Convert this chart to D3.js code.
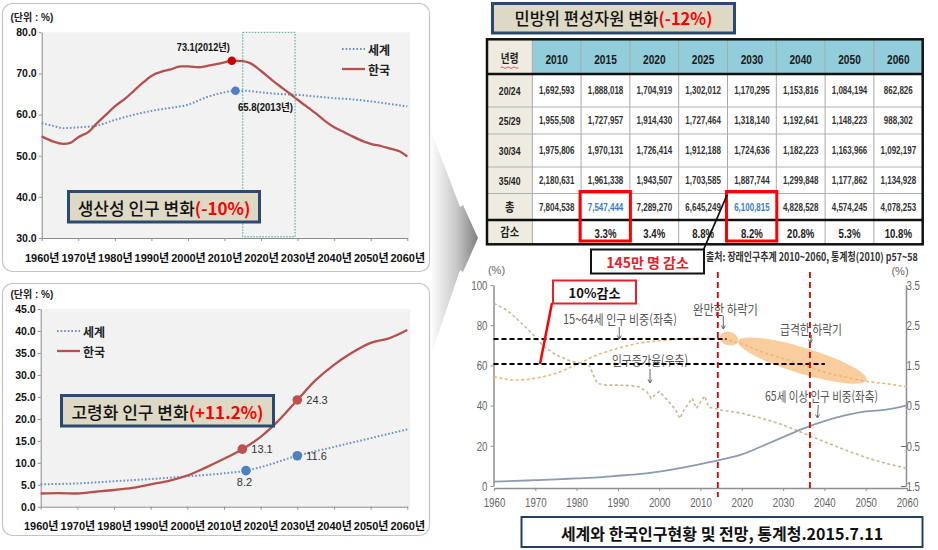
<!DOCTYPE html>
<html><head><meta charset="utf-8">
<script src="https://cdn.jsdelivr.net/npm/d3@7"></script>
<style>
html,body{margin:0;padding:0;background:#fff;}
svg{display:block;}
</style></head><body>
<svg id="chart" width="938" height="550"></svg>
<script>
// ================= DATA =================
const decades = [1960,1970,1980,1990,2000,2010,2020,2030,2040,2050,2060];

// Panel 1 : 생산성 인구 (15~64세 비중, %)
const p1KoreaYears  = [1960,1963,1966,1968,1970,1973,1975,1978,1980,1983,1985,1988,1990,1993,1995,1998,2000,2003,2005,2008,2010,2012,2015,2017,2020,2023,2025,2028,2030,2033,2035,2038,2040,2043,2045,2048,2050,2053,2055,2058,2060];
const p1KoreaValues = [54.7,53.5,52.9,53.2,54.5,55.9,57.8,60.3,62.0,64.0,65.6,68.0,69.4,70.5,70.9,71.7,71.7,71.5,71.8,72.3,72.7,73.1,73.0,72.5,70.6,68.4,67.0,65.0,63.6,61.6,60.3,58.1,56.9,55.6,54.7,53.5,52.9,52.3,51.8,51.0,49.8];
const p1WorldYears  = [1960,1963,1966,1970,1975,1980,1985,1990,1995,2000,2005,2010,2013,2015,2020,2025,2030,2035,2040,2045,2050,2055,2060];
const p1WorldValues = [57.9,57.3,56.7,56.9,57.3,58.7,59.9,60.9,61.6,62.4,64.2,65.4,65.8,65.8,65.4,65.0,64.8,64.4,64.0,63.7,63.2,62.6,62.0];
const p1Ticks = [30,40,50,60,70,80];
const p1KoreaMark = [2012, 73.1];
const p1WorldMark = [2013, 65.8];
const p1FocusRange = [2015, 2029.3];

// Panel 2 : 고령화 인구 (65세 이상 비중, %)
const p2KoreaYears  = [1960,1965,1970,1975,1980,1985,1990,1995,2000,2005,2010,2015,2020,2025,2030,2035,2040,2045,2050,2055,2060];
const p2KoreaValues = [3.0,3.1,3.0,3.4,3.8,4.3,5.1,5.9,7.1,8.9,10.9,13.1,15.9,19.7,24.3,28.8,32.3,35.1,37.3,38.3,40.2];
const p2WorldYears  = [1960,1970,1980,1990,2000,2010,2016,2020,2030,2040,2050,2060];
const p2WorldValues = [5.1,5.3,5.8,6.3,6.9,7.6,8.2,9.0,11.6,13.6,15.6,17.6];
const p2Ticks = [0,5,10,15,20,25,30,35,40,45];
const p2KoreaMarks = [[2015,13.1],[2030,24.3]];
const p2WorldMarks = [[2016,8.2],[2030,11.6]];

// Table : 민방위 편성자원
const tableYears = ['2010','2015','2020','2025','2030','2040','2050','2060'];
const ageGroups  = ['20/24','25/29','30/34','35/40'];
const age2024 = [1692593,1888018,1704919,1302012,1170295,1153816,1084194,862826];
const age2529 = [1955508,1727957,1914430,1727464,1318140,1192641,1148223,988302];
const age3034 = [1975806,1970131,1726414,1912188,1724636,1182223,1163966,1092197];
const age3540 = [2180631,1961338,1943507,1703585,1887744,1299848,1177862,1134928];
const totals  = [7804538,7547444,7289270,6645249,6100815,4828528,4574245,4078253];
const decreases = ['', '3.3%','3.4%','8.8%','8.2%','20.8%','5.3%','10.8%'];
const highlightYears = ['2015','2030'];

// Right chart : 인구구조 (통계청)
const rYears    = [1960,1965,1970,1975,1980,1985,1990,1995,2000,2005,2010,2015,2020,2025,2030,2035,2040,2045,2050,2055,2060];
const r1564     = [54.4,52.7,53.6,56.1,60.5,65.2,68.5,71.0,72.3,73.1,73.5,73.1,70.6,66.7,63.4,60.1,56.7,54.2,52.1,50.9,49.3];
const r65       = [2.2,2.5,2.9,3.3,3.8,4.3,5.1,5.9,7.2,8.9,10.9,13.1,15.7,19.9,24.3,28.7,32.3,35.1,37.1,38.0,40.1];
const growthYears  = [1960,1963,1965,1968,1970,1972,1975,1978,1980,1982,1983,1985,1987,1990,1993,1995,1997,1998,2000,2002,2004,2005,2006,2008,2009,2011,2012,2015,2020,2025,2030,2035,2040,2045,2050,2055,2060];
const growthValues = [3.04,2.88,2.71,2.42,2.21,1.97,1.76,1.63,1.57,1.55,1.51,1.05,1.01,1.01,1.0,0.97,0.85,0.68,0.85,0.64,0.39,0.18,0.39,0.68,0.43,0.74,0.46,0.39,0.31,0.18,0.02,-0.19,-0.40,-0.60,-0.79,-0.94,-1.06];
const rLeftTicks  = [0,20,40,60,80,100];
const rRightTicks = [-1.5,-0.5,0.5,1.5,2.5,3.5];
const refLevels   = [73.1, 60.7];         // 15~64세 비중 기준선
const refEndYears = [2016.3, 2040.1];
const phaseYears  = [2014.2, 2036.5];      // 하락기 구분선
const gentlePhase = [[2014.7,74.6],[2019.1,72.1]];
const steepPhase  = [[2019.1,72.1],[2050.2,52.7]];

// ================= DRAWING =================
const FONT  = '"Liberation Sans","Noto Sans CJK KR",sans-serif';
const KFONT = '"Noto Sans CJK KR","Liberation Sans",sans-serif';
const svg = d3.select("#chart");
const defs = svg.append("defs");
const grad = defs.append("linearGradient").attr("id","arrowGrad").attr("x1",0).attr("x2",1).attr("y1",0).attr("y2",0);
grad.append("stop").attr("offset",0).attr("stop-color","#ffffff");
grad.append("stop").attr("offset",0.55).attr("stop-color","#c8c8c8");
grad.append("stop").attr("offset",1).attr("stop-color","#7f7f7f");

// middle arrow
svg.append("polygon")
  .attr("points","430,128 460,207 463,205 478,238 463,272 460,270 432,352")
  .attr("fill","url(#arrowGrad)");

function styleAxis(g, color){
  g.select(".domain").attr("stroke",color).attr("stroke-width",1);
  g.selectAll(".tick line").attr("stroke",color);
  g.attr("font-family",FONT);
}
function callout(g, x, y, w, h, black, red, size){
  g.append("rect").attr("x",x).attr("y",y).attr("width",w).attr("height",h)
    .attr("fill","#ddd9c4").attr("stroke","#2c4a6e").attr("stroke-width",3);
  const t = g.append("text").attr("x",x+w/2).attr("y",y+h/2).attr("text-anchor","middle")
    .attr("dominant-baseline","central").attr("font-family",KFONT).attr("font-size",size);
  t.append("tspan").attr("fill","#111").attr("font-weight",500).text(black);
  t.append("tspan").attr("fill","#ff0000").attr("font-weight","bold").text(red);
}
function lineChartPanel(cfg){
  const g = svg.append("g");
  g.append("rect").attr("x",cfg.frame[0]).attr("y",cfg.frame[1]).attr("width",cfg.frame[2]).attr("height",cfg.frame[3])
    .attr("rx",10).attr("fill","#fff").attr("stroke","#c4c4c4").attr("stroke-width",1.2);
  g.append("rect").attr("x",cfg.left).attr("y",cfg.top).attr("width",cfg.bgRight-cfg.left).attr("height",cfg.bottom-cfg.top).attr("fill","#f2f2f2");
  g.append("text").attr("x",cfg.frame[0]+8).attr("y",cfg.top-11).attr("font-family",FONT).attr("font-size",10).attr("font-weight","bold").attr("fill","#222").text("(단위 : %)");
  const x = d3.scaleLinear().domain([1960,2060]).range([cfg.left,cfg.right]);
  const y = d3.scaleLinear().domain(cfg.domain).range([cfg.bottom,cfg.top]);
  const gx = g.append("g").attr("transform",`translate(0,${cfg.bottom})`)
    .call(d3.axisBottom(x).tickValues(decades).tickFormat(d=>d+"년").tickSize(3).tickSizeOuter(0).tickPadding(13));
  styleAxis(gx,"#8c8c8c");
  gx.selectAll(".tick text").attr("font-size",11).attr("font-weight","bold").attr("fill","#111");
  const gy = g.append("g").attr("transform",`translate(${cfg.left},0)`)
    .call(d3.axisLeft(y).tickValues(cfg.ticks).tickFormat(d3.format(".1f")).tickSize(3).tickSizeOuter(0).tickPadding(2));
  styleAxis(gy,"#8c8c8c");
  gy.selectAll(".tick text").attr("font-size",10.5).attr("font-weight","bold").attr("fill","#111");
  const line = d3.line().x(d=>x(d[0])).y(d=>y(d[1])).curve(d3.curveMonotoneX);
  g.append("path").datum(d3.zip(cfg.worldYears,cfg.worldValues)).attr("d",line)
    .attr("fill","none").attr("stroke","#6b8dc2").attr("stroke-width",2).attr("stroke-dasharray","1.6,2");
  g.append("path").datum(d3.zip(cfg.koreaYears,cfg.koreaValues)).attr("d",line)
    .attr("fill","none").attr("stroke","#b5504c").attr("stroke-width",2.3);
  // legend
  const lg = cfg.legend;
  g.append("line").attr("x1",lg[0]).attr("x2",lg[0]+23).attr("y1",lg[1]).attr("y2",lg[1]).attr("stroke","#6b8dc2").attr("stroke-width",2).attr("stroke-dasharray","1.6,2");
  g.append("line").attr("x1",lg[0]).attr("x2",lg[0]+23).attr("y1",lg[1]+20).attr("y2",lg[1]+20).attr("stroke","#b5504c").attr("stroke-width",2.3);
  g.append("text").attr("x",lg[0]+26).attr("y",lg[1]).attr("dominant-baseline","central").attr("font-family",KFONT).attr("font-size",12).attr("font-weight","bold").attr("fill","#222").text("세계");
  g.append("text").attr("x",lg[0]+26).attr("y",lg[1]+20).attr("dominant-baseline","central").attr("font-family",KFONT).attr("font-size",12).attr("font-weight","bold").attr("fill","#222").text("한국");
  return {g,x,y};
}

// ---- Panel 1
const P1 = lineChartPanel({frame:[2.5,3.5,427,268], left:41.7, right:407.3, bgRight:410, top:32.3, bottom:238,
  domain:[30,80], ticks:p1Ticks, koreaYears:p1KoreaYears, koreaValues:p1KoreaValues,
  worldYears:p1WorldYears, worldValues:p1WorldValues, legend:[342,49]});
P1.g.append("rect").attr("x",P1.x(p1FocusRange[0])).attr("y",P1.y(80)).attr("width",P1.x(p1FocusRange[1])-P1.x(p1FocusRange[0]))
  .attr("height",P1.y(30.3)-P1.y(80)).attr("fill","none").attr("stroke","#45a096").attr("stroke-width",1).attr("stroke-dasharray","1.5,1.5");
P1.g.append("circle").attr("cx",P1.x(p1KoreaMark[0])).attr("cy",P1.y(p1KoreaMark[1])).attr("r",4.3).attr("fill","#cc0000");
P1.g.append("circle").attr("cx",P1.x(p1WorldMark[0])).attr("cy",P1.y(p1WorldMark[1])).attr("r",4.3).attr("fill","#4f7fc0");
P1.g.append("text").attr("x",P1.x(p1KoreaMark[0])-2).attr("y",P1.y(p1KoreaMark[1])-10).attr("text-anchor","end")
  .attr("font-family",FONT).attr("font-size",10.5).attr("font-weight","bold").attr("fill","#111")
  .attr("textLength",53).attr("lengthAdjust","spacingAndGlyphs").text(`${p1KoreaMark[1]}(${p1KoreaMark[0]}년)`);
P1.g.append("text").attr("x",P1.x(p1WorldMark[0])+2.5).attr("y",P1.y(p1WorldMark[1])+20.5)
  .attr("font-family",FONT).attr("font-size",10.5).attr("font-weight","bold").attr("fill","#111")
  .attr("textLength",55).attr("lengthAdjust","spacingAndGlyphs").text(`${p1WorldMark[1]}(${p1WorldMark[0]}년)`);
callout(P1.g, 68.5, 191.5, 191, 30.5, "생산성 인구 변화", "(-10%)", 17);

// ---- Panel 2
const P2 = lineChartPanel({frame:[2.5,283.5,427,252], left:40.7, right:407.3, bgRight:410, top:309, bottom:506.7,
  domain:[0,45], ticks:p2Ticks, koreaYears:p2KoreaYears, koreaValues:p2KoreaValues,
  worldYears:p2WorldYears, worldValues:p2WorldValues, legend:[57,331]});
p2KoreaMarks.forEach(m=>{
  P2.g.append("circle").attr("cx",P2.x(m[0])).attr("cy",P2.y(m[1])).attr("r",4.8).attr("fill","#c0504d");
  P2.g.append("text").attr("x",P2.x(m[0])+9).attr("y",P2.y(m[1])).attr("dominant-baseline","central")
    .attr("font-family",FONT).attr("font-size",11).attr("fill","#333").text(m[1].toFixed(1));
});
p2WorldMarks.forEach((m,i)=>{
  P2.g.append("circle").attr("cx",P2.x(m[0])).attr("cy",P2.y(m[1])).attr("r",4.8).attr("fill","#4f81bd");
  if(i===0){
    P2.g.append("text").attr("x",P2.x(m[0])-1.5).attr("y",P2.y(m[1])+11.5).attr("text-anchor","middle").attr("dominant-baseline","central")
      .attr("font-family",FONT).attr("font-size",11).attr("fill","#333").text(m[1].toFixed(1));
  } else {
    P2.g.append("text").attr("x",P2.x(m[0])+9).attr("y",P2.y(m[1])).attr("dominant-baseline","central")
      .attr("font-family",FONT).attr("font-size",11).attr("fill","#333").text(m[1].toFixed(1));
  }
});
callout(P2.g, 61.5, 395.5, 212, 30.5, "고령화 인구 변화", "(+11.2%)", 17);

// ---- Title of table
callout(svg, 492.5, 3.5, 242, 29.5, "민방위 편성자원 변화", "(-12%)", 16.5);

// ---- Table
const T = {left:487, firstRight:532.3, right:922.7, rows:[39.3,74,107,134,167,193.5,220,244.3]};
const colX = d3.scaleBand().domain(tableYears).range([T.firstRight,T.right]);
const tg = svg.append("g");
const rowLabels = ageGroups.concat(['총','감소']);
const rowData = [age2024,age2529,age3034,age3540,totals];
const fmt = d3.format(",");
tg.append("rect").attr("x",T.left).attr("y",T.rows[0]).attr("width",T.right-T.left).attr("height",T.rows[7]-T.rows[0]).attr("fill","#fff");
tg.append("rect").attr("x",T.firstRight).attr("y",T.rows[0]).attr("width",T.right-T.firstRight).attr("height",T.rows[1]-T.rows[0]).attr("fill","#92cddc");
tg.append("rect").attr("x",T.left).attr("y",T.rows[0]).attr("width",T.firstRight-T.left).attr("height",T.rows[7]-T.rows[0]).attr("fill","#eeece1");
tableYears.forEach(yr=>{
  tg.append("line").attr("x1",colX(yr)).attr("x2",colX(yr)).attr("y1",T.rows[0]).attr("y2",T.rows[7]).attr("stroke","#a9a9a9").attr("stroke-width",1);
});
T.rows.slice(1,7).forEach((ry,i)=>{
  const heavy = (i===0 || i===5);
  tg.append("line").attr("x1",T.left).attr("x2",T.right).attr("y1",ry).attr("y2",ry)
    .attr("stroke",heavy?"#111":"#b0b0b0").attr("stroke-width",heavy?2.5:1);
});
tg.append("rect").attr("x",T.left).attr("y",T.rows[0]).attr("width",T.right-T.left).attr("height",T.rows[7]-T.rows[0])
  .attr("fill","none").attr("stroke","#111").attr("stroke-width",2.5);
function ntext(x,y,str,size,weight,fill,sx){
  return tg.append("text").attr("transform",`translate(${x},${y}) scale(${sx},1)`).attr("text-anchor","middle")
    .attr("dominant-baseline","central").attr("font-family",FONT).attr("font-size",size).attr("font-weight",weight).attr("fill",fill).text(str);
}
const bw = colX.bandwidth();
const firstC = (T.left+T.firstRight)/2;
ntext(firstC,(T.rows[0]+T.rows[1])/2+2,"년령",12,"bold","#222",0.8);
tg.append("path").attr("d",`M${firstC-9},${(T.rows[0]+T.rows[1])/2+11} q1.5,-1.5 3,0 t3,0 t3,0 t3,0 t3,0 t3,0`).attr("fill","none").attr("stroke","#e03030").attr("stroke-width",0.8);
tableYears.forEach(yr=>ntext(colX(yr)+bw/2,(T.rows[0]+T.rows[1])/2+2,yr,13,"bold","#1a1a1a",0.78));
rowLabels.forEach((lab,i)=>{
  const cy=(T.rows[i+1]+T.rows[i+2])/2;
  ntext(firstC,cy+1,lab,lab.length>2?11.5:12,"bold","#222",lab.length>2?0.75:0.85);
});
rowData.forEach((vals,ri)=>{
  const cy=(T.rows[ri+1]+T.rows[ri+2])/2;
  vals.forEach((v,ci)=>{
    const yr=tableYears[ci];
    const blue = ri===4 && highlightYears.includes(yr);
    ntext(colX(yr)+bw/2,cy,fmt(v),10.8,"bold",blue?"#3a7dc9":"#333",0.74);
  });
});
decreases.forEach((d,ci)=>{
  if(!d) return;
  ntext(colX(tableYears[ci])+bw/2,(T.rows[6]+T.rows[7])/2+1,d,12,"bold","#222",0.8);
});
highlightYears.forEach(yr=>{
  tg.append("rect").attr("x",colX(yr)-1).attr("y",191.5).attr("width",bw+1.5).attr("height",49.5)
    .attr("fill","none").attr("stroke","#ff0000").attr("stroke-width",3);
});
// source text (condensed by scaling to the width it takes in the picture) + callout
const src = svg.append("text").attr("font-family",KFONT).attr("font-size",11).attr("font-weight","bold").attr("fill","#333")
  .text("출처: 장래인구추계 2010~2060, 통계청(2010) p57~58");
const srcW = src.node().getComputedTextLength();
src.attr("transform",`translate(706,261) scale(${(212/srcW).toFixed(4)},1)`);
svg.append("line").attr("x1",703).attr("y1",251).attr("x2",colX('2030')-0.5).attr("y2",195).attr("stroke","#111").attr("stroke-width",1.8);
svg.append("rect").attr("x",591).attr("y",249.5).attr("width",113).attr("height",24).attr("fill","#fff").attr("stroke","#111").attr("stroke-width",2);
svg.append("text").attr("x",647.5).attr("y",262).attr("text-anchor","middle").attr("dominant-baseline","central")
  .attr("font-family",KFONT).attr("font-size",14).attr("font-weight","bold").attr("fill","#e8202a").text("145만 명 감소");

// ---- Right chart
const R = {left:494, right:907, top:285, bottom:486, axisY:488, leftAxisX:493.5, rightAxisX:906};
const xR = d3.scaleLinear().domain([1960,2060]).range([R.left,R.right]);
const yL = d3.scaleLinear().domain([0,100]).range([R.bottom,R.top]);
const yRr = d3.scaleLinear().domain([-1.5,3.5]).range([R.bottom,R.top]);
const rg = svg.append("g");
const SX = 0.72;
const gL = rg.append("g").attr("transform",`translate(${R.leftAxisX},0)`).call(d3.axisLeft(yL).tickValues(rLeftTicks).tickSize(3).tickSizeOuter(0));
styleAxis(gL,"#8f8f8f"); gL.select(".domain").attr("stroke-width",1.5);
gL.selectAll(".tick text").attr("font-size",13.5).attr("fill","#666").attr("transform",`scale(${SX},1)`).attr("x",-6/SX);
const gRt = rg.append("g").attr("transform",`translate(${R.rightAxisX},0)`).call(d3.axisRight(yRr).tickValues(rRightTicks).tickFormat(d3.format(".1f")).tickSize(0).tickSizeOuter(0));
styleAxis(gRt,"#8f8f8f"); gRt.select(".domain").attr("stroke-width",1.5);
gRt.selectAll(".tick text").attr("font-size",13.5).attr("fill","#666").attr("text-anchor","end").attr("transform",`scale(${SX},1)`).attr("x",14/SX);
const gB = rg.append("g").attr("transform",`translate(0,${R.axisY})`).call(d3.axisBottom(xR).tickValues(decades).tickFormat(d3.format("d")).tickSize(3).tickSizeOuter(0).tickPadding(6));
styleAxis(gB,"#8f8f8f"); gB.select(".domain").attr("stroke-width",1.5);
gB.selectAll(".tick text").attr("font-size",13.5).attr("fill","#666").attr("transform",`scale(${SX},1)`);
rg.append("text").attr("x",R.leftAxisX+3).attr("y",274).attr("font-family",FONT).attr("font-size",11).attr("fill","#666").attr("text-anchor","middle").text("(%)");
rg.append("text").attr("x",R.rightAxisX-6).attr("y",275).attr("font-family",FONT).attr("font-size",11).attr("fill","#666").attr("text-anchor","middle").text("(%)");

function phaseEllipse(p,q,ry){
  const ax=xR(p[0]), ay=yL(p[1]), bx=xR(q[0]), by=yL(q[1]);
  const cx=(ax+bx)/2, cy=(ay+by)/2, rx=Math.hypot(bx-ax,by-ay)/2, ang=Math.atan2(by-ay,bx-ax)*180/Math.PI;
  rg.append("ellipse").attr("cx",cx).attr("cy",cy).attr("rx",rx).attr("ry",ry)
    .attr("transform",`rotate(${ang},${cx},${cy})`).attr("fill","#f8c48c").attr("opacity",0.85);
}
phaseEllipse(gentlePhase[0],gentlePhase[1],6.8);
phaseEllipse(steepPhase[0],steepPhase[1],13);

const lineL = d3.line().x(d=>xR(d[0])).y(d=>yL(d[1])).curve(d3.curveMonotoneX);
const lineG = d3.line().x(d=>xR(d[0])).y(d=>yRr(d[1]));
rg.append("path").datum(d3.zip(growthYears,growthValues)).attr("d",lineG).attr("fill","none")
  .attr("stroke","#c9b98f").attr("stroke-width",1.6).attr("stroke-dasharray","3,2.5");
rg.append("path").datum(d3.zip(rYears,r1564)).attr("d",lineL).attr("fill","none")
  .attr("stroke","#edb679").attr("stroke-width",1.6).attr("stroke-dasharray","3,2.5");
rg.append("path").datum(d3.zip(rYears,r65)).attr("d",lineL).attr("fill","none")
  .attr("stroke","#8b9bb2").attr("stroke-width",1.8);

// annotations
function ann(x,y,str,w){
  rg.append("text").attr("x",x).attr("y",y).attr("dominant-baseline","central").attr("font-family",KFONT).attr("font-size",13)
    .attr("fill","#555").attr("textLength",w).attr("lengthAdjust","spacingAndGlyphs").text(str);
}
function arrow(x1,y1,x2,y2){
  rg.append("line").attr("x1",x1).attr("y1",y1).attr("x2",x2).attr("y2",y2).attr("stroke","#555").attr("stroke-width",0.9);
  rg.append("path").attr("d",`M${x2-2},${y2-3.5} L${x2},${y2} L${x2+2},${y2-3.5}`).attr("fill","none").attr("stroke","#555").attr("stroke-width",0.9);
}
ann(563,318,"15~64세 인구 비중(좌축)",114); arrow(619.3,327,619.3,339);
ann(612,359,"인구증가율(우축)",76); arrow(650,369,650,383);
ann(693,308,"완만한 하락기",65); arrow(723.3,316,723.3,329);
ann(780,328,"급격한 하락기",62); arrow(811.5,335,810.5,343);
ann(765,395,"65세 이상 인구 비중(좌축)",113); arrow(818.3,405,817.5,418);

// reference dashed lines
refLevels.forEach((lv,i)=>{
  rg.append("line").attr("x1",R.leftAxisX).attr("x2",xR(refEndYears[i])).attr("y1",yL(lv)).attr("y2",yL(lv))
    .attr("stroke","#000").attr("stroke-width",2).attr("stroke-dasharray","5,3");
});
phaseYears.forEach((yr,i)=>{
  rg.append("line").attr("x1",xR(yr)).attr("x2",xR(yr)).attr("y1",272).attr("y2",i===0?497:490)
    .attr("stroke","#e00000").attr("stroke-width",1.8).attr("stroke-dasharray","6,4");
});
// 10% 감소 callout
rg.append("line").attr("x1",552).attr("y1",303).attr("x2",540).attr("y2",yL(refLevels[1])).attr("stroke","#ff0000").attr("stroke-width",2.5);
rg.append("rect").attr("x",553).attr("y",280.5).attr("width",83).attr("height",23).attr("fill","#fff").attr("stroke","#e8202a").attr("stroke-width",2);
rg.append("text").attr("x",594.5).attr("y",292.5).attr("text-anchor","middle").attr("dominant-baseline","central")
  .attr("font-family",KFONT).attr("font-size",13).attr("font-weight","bold").attr("fill","#111").text("10%감소");

// bottom caption
svg.append("rect").attr("x",521.5).attr("y",517).attr("width",401).attr("height",30).attr("fill","#fff").attr("stroke","#26405f").attr("stroke-width",2);
svg.append("text").attr("x",722).attr("y",532.5).attr("text-anchor","middle").attr("dominant-baseline","central")
  .attr("font-family",KFONT).attr("font-size",16).attr("font-weight","bold").attr("fill","#111").text("세계와 한국인구현황 및 전망, 통계청.2015.7.11");
</script>
</body></html>
